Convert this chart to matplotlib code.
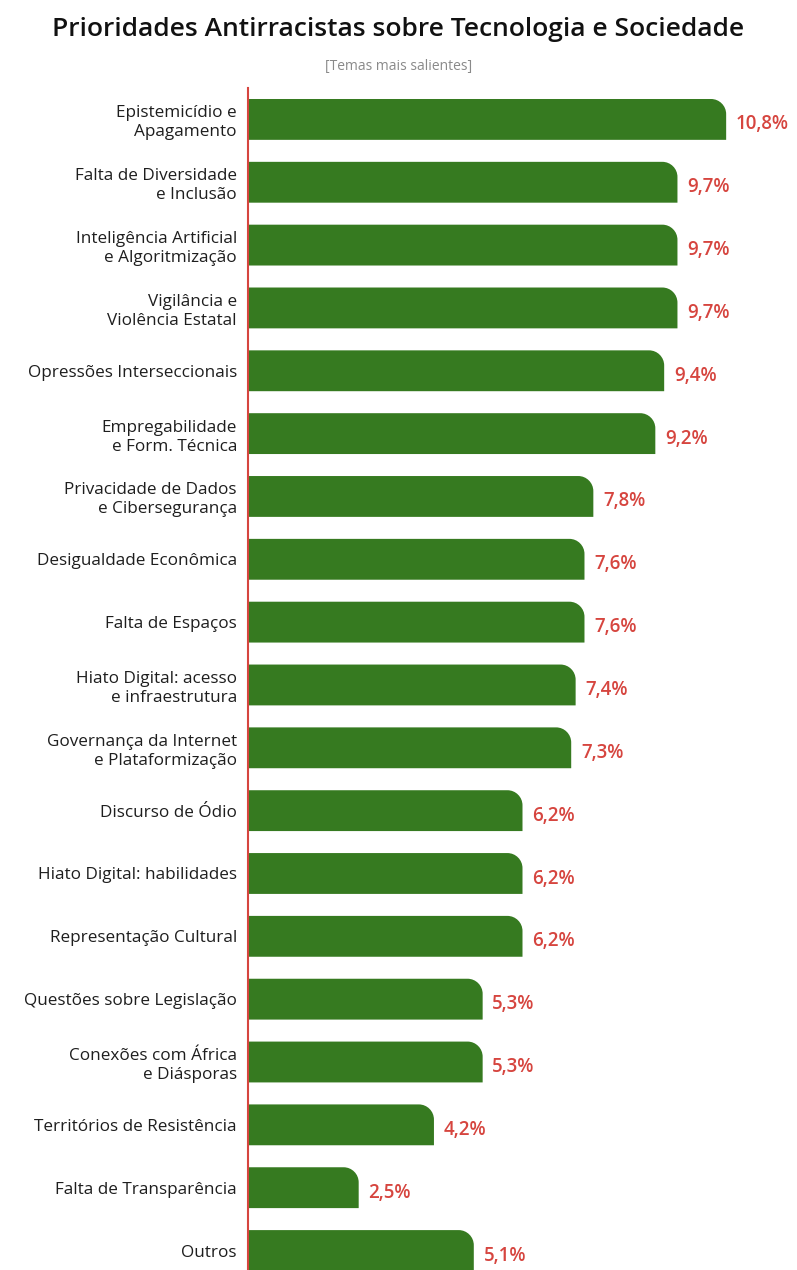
import matplotlib.pyplot as plt
from matplotlib.path import Path
from matplotlib.patches import PathPatch

# dados
temas = ['Epistemicídio e\nApagamento', 'Falta de Diversidade\ne Inclusão',
         'Inteligência Artificial\ne Algoritmização', 'Vigilância e\nViolência Estatal',
         'Opressões Interseccionais', 'Empregabilidade\ne Form. Técnica',
         'Privacidade de Dados\ne Cibersegurança', 'Desigualdade Econômica',
         'Falta de Espaços', 'Hiato Digital: acesso\ne infraestrutura',
         'Governança da Internet\ne Plataformização', 'Discurso de Ódio',
         'Hiato Digital: habilidades', 'Representação Cultural',
         'Questões sobre Legislação', 'Conexões com África\ne Diásporas',
         'Territórios de Resistência', 'Falta de Transparência', 'Outros']
valores = [10.8, 9.7, 9.7, 9.7, 9.4, 9.2, 7.8, 7.6, 7.6, 7.4, 7.3,
           6.2, 6.2, 6.2, 5.3, 5.3, 4.2, 2.5, 5.1]
rotulos = ['10,8%', '9,7%', '9,7%', '9,7%', '9,4%', '9,2%', '7,8%', '7,6%', '7,6%',
           '7,4%', '7,3%', '6,2%', '6,2%', '6,2%', '5,3%', '5,3%', '4,2%', '2,5%', '5,1%']

verde = '#367a20'
vermelho = '#d6453f'
plt.rcParams['font.family'] = ['Open Sans', 'DejaVu Sans']

fig = plt.figure(figsize=(7.97, 12.70), dpi=100)
ax = fig.add_axes([248 / 797, 0, 549 / 797, 1 - 88 / 1270])

y = list(range(len(temas)))
barras = ax.barh(y, valores, height=0.65, color=verde)
ax.set_xlim(0, 12.4)
ax.set_ylim(18.31, -0.5)

# canto superior direito arredondado
rx, ry = 0.34, 0.24
for b in barras:
    x0, y0 = b.get_x(), b.get_y()
    w, h = b.get_width(), b.get_height()
    verts = [(x0, y0 + h), (x0 + w, y0 + h), (x0 + w, y0 + ry),
             (x0 + w, y0 + ry * 0.45), (x0 + w - rx * 0.45, y0), (x0 + w - rx, y0),
             (x0, y0), (x0, y0 + h)]
    codes = [Path.MOVETO, Path.LINETO, Path.LINETO,
             Path.CURVE4, Path.CURVE4, Path.CURVE4,
             Path.LINETO, Path.CLOSEPOLY]
    b.set_visible(False)
    ax.add_patch(PathPatch(Path(verts, codes), facecolor=verde, edgecolor='none'))

for yi, v, r in zip(y, valores, rotulos):
    ax.text(v + 0.22, yi + 0.08, r, color=vermelho, fontsize=13.5, fontweight='semibold',
            va='center', ha='left')

ax.set_yticks(y)
ax.set_yticklabels(temas, fontsize=12.3, color='#1e1e1e', linespacing=1.25)
ax.tick_params(axis='y', length=0, pad=8)
ax.set_xticks([])
for s in ['top', 'right', 'bottom']:
    ax.spines[s].set_visible(False)
ax.spines['left'].set_color(vermelho)
ax.spines['left'].set_linewidth(1.5)

fig.text(0.5, 0.977, 'Prioridades Antirracistas sobre Tecnologia e Sociedade',
         ha='center', va='center', fontsize=19, fontweight='semibold', color='#111111')
fig.text(0.5, 0.948, '[Temas mais salientes]', ha='center', va='center',
         fontsize=10, color='#8a8a8a')

plt.savefig('out.png', dpi=100)
